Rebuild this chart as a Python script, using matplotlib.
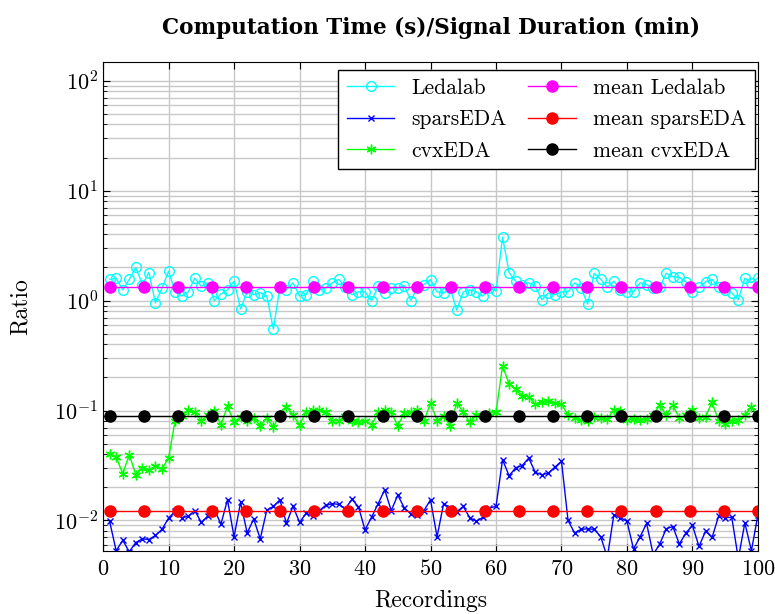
import numpy as np
import matplotlib
matplotlib.use("Agg")
from matplotlib import pyplot as plt
from matplotlib.ticker import LogLocator, NullFormatter

plt.rcParams['font.family'] = ['cmr10', 'DejaVu Serif']
plt.rcParams['mathtext.fontset'] = 'cm'
plt.rcParams['axes.formatter.use_mathtext'] = True

# recordings 1..100
ledalab = [1.56, 1.6, 1.25, 1.56, 2.0, 1.4, 1.8, 0.95, 1.3, 1.85,
           1.2, 1.1, 1.2, 1.6, 1.35, 1.45, 1.0, 1.15, 1.25, 1.5,
           0.84, 1.2, 1.13, 1.18, 1.1, 0.55, 1.32, 1.25, 1.45, 1.1,
           1.13, 1.5, 1.25, 1.3, 1.45, 1.56, 1.32, 1.13, 1.2, 1.2,
           1.0, 1.35, 1.17, 1.3, 1.3, 1.37, 1.0, 1.32, 1.4, 1.55,
           1.2, 1.17, 1.3, 0.82, 1.2, 1.25, 1.2, 1.1, 1.3, 1.22,
           3.77, 1.8, 1.5, 1.4, 1.45, 1.35, 1.02, 1.17, 1.13, 1.2,
           1.2, 1.45, 1.3, 0.93, 1.77, 1.56, 1.32, 1.5, 1.25, 1.2,
           1.2, 1.45, 1.4, 1.3, 1.32, 1.77, 1.65, 1.63, 1.48, 1.2,
           1.32, 1.48, 1.56, 1.32, 1.25, 1.17, 1.02, 1.6, 1.45, 1.6]

sparseda = [0.0098, 0.0053, 0.0066, 0.0052, 0.0063, 0.0068, 0.0067, 0.0073, 0.0083, 0.0105,
            0.0121, 0.0106, 0.0109, 0.0123, 0.0096, 0.011, 0.0125, 0.0093, 0.0154, 0.0071,
            0.0146, 0.0077, 0.0103, 0.0068, 0.0124, 0.0134, 0.0154, 0.0094, 0.0135, 0.0096,
            0.0116, 0.0109, 0.0123, 0.0137, 0.0142, 0.014, 0.0128, 0.0156, 0.0133, 0.0082,
            0.0107, 0.0142, 0.019, 0.0123, 0.017, 0.013, 0.0115, 0.0113, 0.0123, 0.0154,
            0.0071, 0.0142, 0.013, 0.012, 0.0134, 0.0106, 0.0098, 0.0107, 0.013, 0.0134,
            0.0357, 0.0255, 0.0301, 0.0316, 0.0369, 0.0274, 0.026, 0.027, 0.0306, 0.0345,
            0.01, 0.0077, 0.0083, 0.0084, 0.0083, 0.0071, 0.0046, 0.0113, 0.0106, 0.0098,
            0.0055, 0.0071, 0.0094, 0.0049, 0.0061, 0.0084, 0.0088, 0.0061, 0.0077, 0.009,
            0.0058, 0.008, 0.007, 0.011, 0.0106, 0.0107, 0.0045, 0.0095, 0.0053, 0.0113]

cvxeda = [0.0404, 0.0377, 0.0266, 0.0397, 0.026, 0.030, 0.0287, 0.0315, 0.0294, 0.0369,
          0.081, 0.09, 0.102, 0.096, 0.081, 0.091, 0.099, 0.074, 0.109, 0.078,
          0.088, 0.08, 0.085, 0.073, 0.085, 0.071, 0.091, 0.108, 0.091, 0.074,
          0.097, 0.102, 0.101, 0.096, 0.081, 0.081, 0.089, 0.08, 0.078, 0.081,
          0.074, 0.096, 0.102, 0.096, 0.073, 0.095, 0.096, 0.102, 0.08, 0.117,
          0.081, 0.089, 0.073, 0.117, 0.097, 0.078, 0.091, 0.09, 0.095, 0.096,
          0.255, 0.174, 0.156, 0.136, 0.134, 0.114, 0.119, 0.121, 0.118, 0.114,
          0.091, 0.085, 0.082, 0.08, 0.088, 0.085, 0.083, 0.101, 0.10, 0.082,
          0.083, 0.082, 0.083, 0.091, 0.112, 0.091, 0.112, 0.085, 0.091, 0.101,
          0.085, 0.088, 0.119, 0.08, 0.076, 0.081, 0.082, 0.091, 0.107, 0.089]

mean_ledalab = 1.32
mean_sparseda = 0.0122
mean_cvxeda = 0.0895

x = np.arange(1, len(ledalab) + 1)
xm = np.linspace(1, 100, 20)

fig = plt.figure(figsize=(7.75, 6.14), dpi=100)
ax = fig.add_axes([0.133, 0.103, 0.845, 0.796])

asterisk = (6, 2, 0)
ax.plot(x, ledalab, color='#00ffff', lw=1, marker='o', ms=7, mfc='none', mew=1, label='Ledalab')
ax.plot(x, sparseda, color='#0000ff', lw=1, marker='x', ms=5, mew=1, label='sparsEDA')
ax.plot(x, cvxeda, color='#00ff00', lw=1, marker=asterisk, ms=7, mew=1, label='cvxEDA')
ax.plot(xm, [mean_ledalab] * len(xm), color='#ff00ff', lw=1, marker='o', ms=8, label='mean Ledalab')
ax.plot(xm, [mean_sparseda] * len(xm), color='#ff0000', lw=1, marker='o', ms=8, label='mean sparsEDA')
ax.plot(xm, [mean_cvxeda] * len(xm), color='black', lw=1, marker='o', ms=8, label='mean cvxEDA')

ax.set_yscale('log')
ax.set_xlim(0, 100)
ax.set_ylim(0.0053, 148)
ax.set_xticks(np.arange(0, 101, 10))
ax.yaxis.set_major_locator(LogLocator(base=10, numticks=10))
ax.yaxis.set_minor_locator(LogLocator(base=10, subs=np.arange(2, 10), numticks=20))
ax.yaxis.set_minor_formatter(NullFormatter())
ax.grid(True, which='major', color='#c8c8c8', lw=1)
ax.grid(True, which='minor', axis='y', color='#c8c8c8', lw=1)
ax.set_axisbelow(True)
ax.tick_params(which='both', direction='in', top=True, right=True, labelsize=16)
ax.tick_params(which='major', length=5)
ax.tick_params(which='minor', length=3)
ax.tick_params(axis='x', pad=6)

ax.set_xlabel('Recordings', fontsize=17, labelpad=8)
ax.set_ylabel('Ratio', fontsize=17, labelpad=16)
ax.set_title('Computation Time (s)/Signal Duration (min)', fontsize=15.5,
             fontfamily='DejaVu Serif', fontweight='bold', pad=20)

leg = ax.legend(loc='upper right', ncol=2, fontsize=15.5, fancybox=False,
                edgecolor='black', framealpha=1, borderpad=0.4,
                handlelength=2.2, columnspacing=1.0, labelspacing=0.55,
                borderaxespad=0, bbox_to_anchor=(0.995, 0.984))
leg.get_frame().set_linewidth(1)

fig.savefig('out.png', dpi=100)
